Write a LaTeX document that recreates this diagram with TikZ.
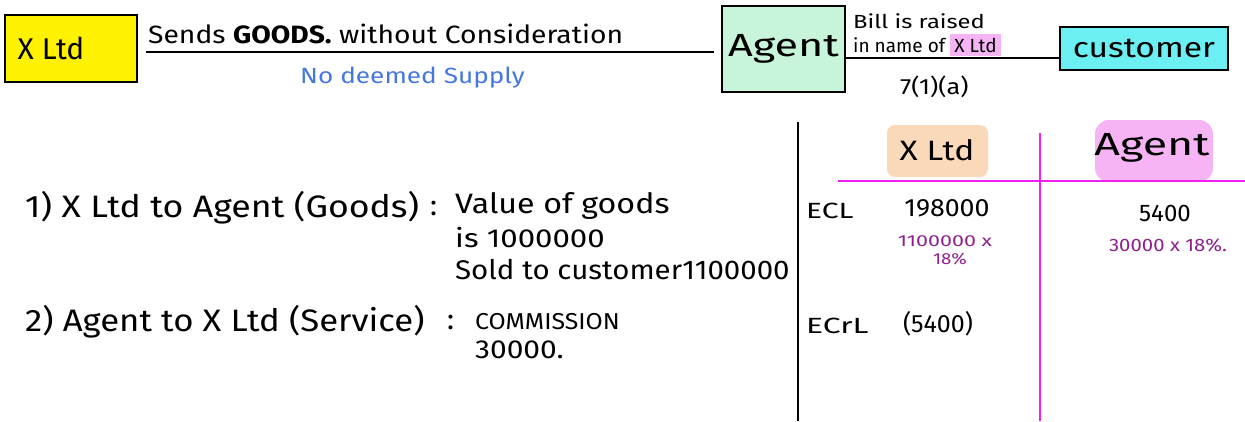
\documentclass[tikz,border=0pt]{standalone}
\usepackage{fontspec}
\setmainfont{Fira Sans}
\definecolor{boxyellow}{HTML}{FFF200}
\definecolor{mint}{HTML}{C8F5DA}
\definecolor{cyanbox}{HTML}{6BEFF3}
\definecolor{orangehl}{HTML}{FAD8BA}
\definecolor{pinkhl}{HTML}{F7B4F4}
\definecolor{magline}{HTML}{F020F0}
\definecolor{bluetext}{HTML}{4677E0}
\definecolor{purpletext}{HTML}{8E1F8E}
\newcommand{\fsz}[1]{\fontsize{#1}{#1}\selectfont}
\newcommand{\hs}[2]{\scalebox{#1}[1]{#2}}
\begin{document}
\begin{tikzpicture}[x=1pt,y=-1pt,
  entity/.style={draw=black, line width=2pt, inner sep=0pt},
  link/.style={draw=black, line width=1.6pt},
  txt/.style={anchor=west, inner sep=0pt},
  ctr/.style={anchor=center, inner sep=0pt},
  note/.style={anchor=center, inner sep=0pt, text=purpletext},
  rule/.style={line width=1.6pt}
]
\useasboundingbox (0,0) rectangle (1245,421);
% top flow
\node[entity, fill=boxyellow, minimum width=132pt, minimum height=67pt, font=\fsz{30}] (xltd) at (71,48.5) {\hs{1.0}{X Ltd}\hspace*{40pt}};
\node[entity, fill=mint, minimum width=123pt, minimum height=86pt, font=\fsz{32}] (agent) at (783.5,48.5) {\hs{1.35}{Agent}};
\node[entity, fill=cyanbox, minimum width=168pt, minimum height=43pt, font=\fsz{28}] (cust) at (1144,48.5) {\hs{1.2}{customer}};
\draw[link] ([xshift=8pt,yshift=-3.5pt]xltd.east) -- ([xshift=-7pt,yshift=-3.5pt]agent.west);
\draw[link] ([yshift=-9.5pt]agent.east) -- ([yshift=-9.5pt]cust.west);
\node[txt, font=\fsz{25}] (sends) at (148,34) {\hs{1.13}{Sends \textbf{GOODS.} without Consideration}};
\node[txt, font=\fsz{22}, text=bluetext] (nodeemed) at (300,78) {\hs{1.19}{No deemed Supply}};
\node[txt, font=\fsz{19}] (bill1) at (853,21) {\hs{1.25}{Bill is raised}};
\node[txt, font=\fsz{19}] (bill2) at (853,45) {in name of {\setlength{\fboxsep}{4pt}\colorbox{pinkhl}{X Ltd}}};
\node[txt, font=\fsz{22}] (sec) at (900,87) {\hs{1.15}{7(1)(a)}};
% left list
\node[txt, font=\fsz{31}] (item1) at (25,208) {\hs{1.15}{1) X Ltd to Agent (Goods)}};
\node[txt, font=\fsz{29}] (colon1) at (430,208) {:};
\node[txt, font=\fsz{28}] (v1) at (455,206) {\hs{1.15}{Value of goods}};
\node[txt, font=\fsz{26}] (v2) at (455,238) {\hs{1.2}{is 1000000}};
\node[txt, font=\fsz{27}] (v3) at (455,270) {\hs{1.09}{Sold to customer1100000}};
\node[txt, font=\fsz{31}] (item2) at (25,322) {\hs{1.12}{2) Agent to X Ltd (Service)}};
\node[txt, font=\fsz{29}] (colon2) at (447,322) {:};
\node[txt, font=\fsz{23}] (c1) at (475,322) {\hs{1.08}{COMMISSION}};
\node[txt, font=\fsz{26}] (c2) at (475,350) {\hs{1.15}{30000.}};
% table
\draw[rule, black] (798,122) -- (798,421);
\fill[orangehl, rounded corners=8pt] (887,125) rectangle (988,177);
\fill[pinkhl, rounded corners=14pt] (1095,120) rectangle (1213,182);
\draw[rule, magline] (838,181) -- (1245,181);
\draw[rule, magline] (1040,133) -- (1040,421);
\node[ctr, font=\fsz{28}] (hx) at (937,150) {\hs{1.2}{X Ltd}};
\node[ctr, font=\fsz{32}] (ha) at (1152,148) {\hs{1.4}{Agent}};
\node[txt, font=\fsz{22}] (ecl) at (806,211) {\hs{1.36}{ECL}};
\node[ctr, font=\fsz{25}] (n1) at (947,208) {\hs{1.07}{198000}};
\node[note, font=\fsz{16}] (n1a) at (945,241) {\hs{1.34}{1100000 x}};
\node[note, font=\fsz{16}] (n1b) at (950,259) {\hs{1.17}{18\%}};
\node[ctr, font=\fsz{24}] (n2) at (1165,213) {5400};
\node[note, font=\fsz{18}] (n2a) at (1168,245) {\hs{1.13}{30000 x 18\%.}};
\node[txt, font=\fsz{22}] (ecrl) at (806,326) {\hs{1.45}{ECrL}};
\node[ctr, font=\fsz{25}] (n3) at (938,324) {(5400)};
\end{tikzpicture}
\end{document}
